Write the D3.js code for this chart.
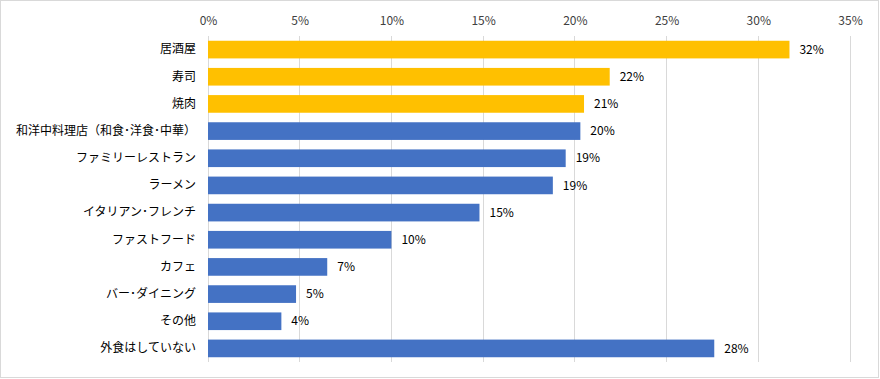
<!DOCTYPE html>
<html><head><meta charset="utf-8">
<script src="https://cdn.jsdelivr.net/npm/d3@7"></script>
<style>body{margin:0;background:#fff;} svg{display:block;}</style>
</head><body>
<svg id="c" width="880" height="379"></svg>
<script>
const categories = ["居酒屋","寿司","焼肉","和洋中料理店（和食･洋食･中華）","ファミリーレストラン","ラーメン","イタリアン･フレンチ","ファストフード","カフェ","バー･ダイニング","その他","外食はしていない"];
const values = [31.7, 21.9, 20.5, 20.3, 19.5, 18.8, 14.8, 10.0, 6.5, 4.8, 4.0, 27.6];
const labels = ["32%","22%","21%","20%","19%","19%","15%","10%","7%","5%","4%","28%"];
const highlighted = [true,true,true,false,false,false,false,false,false,false,false,false];
const tickValues = [0,5,10,15,20,25,30,35];

const svg = d3.select("#c");
const font = "'Noto Sans CJK JP', sans-serif";
svg.append("rect").attr("x",0.5).attr("y",0.5).attr("width",878).attr("height",377)
  .attr("fill","#fff").attr("stroke","#d9d9d9");

const x = d3.scaleLinear().domain([0,35]).range([208,850]);
const y = d3.scaleBand().domain(categories).range([36,362]).paddingInner(0.35).paddingOuter(0.175);

svg.append("g").selectAll("line").data(tickValues).join("line")
  .attr("x1",d=>x(d)).attr("x2",d=>x(d)).attr("y1",36).attr("y2",362)
  .attr("stroke","#d9d9d9").attr("stroke-width",1).attr("shape-rendering","crispEdges");

const ax = svg.append("g").attr("transform","translate(0,30)")
  .call(d3.axisTop(x).tickValues(tickValues).tickFormat(d=>d+"%").tickSize(0).tickPadding(5));
ax.select(".domain").remove();
ax.selectAll("text").attr("font-family",font).attr("font-size",12).attr("fill","#404040");

const ay = svg.append("g").attr("transform","translate(208,0)")
  .call(d3.axisLeft(y).tickSize(0).tickPadding(12));
ay.select(".domain").remove();
ay.selectAll("text").attr("font-family",font).attr("font-size",12).attr("fill","#000");

svg.append("g").selectAll("rect").data(categories).join("rect")
  .attr("x",x(0)).attr("y",d=>y(d)).attr("height",y.bandwidth())
  .attr("width",(d,i)=>x(values[i])-x(0))
  .attr("fill",(d,i)=>highlighted[i]?"#FFC000":"#4472C4");

svg.append("g").selectAll("text").data(categories).join("text")
  .attr("x",(d,i)=>x(values[i])+10).attr("y",d=>y(d)+y.bandwidth()/2)
  .attr("dy","0.35em").attr("font-family",font).attr("font-size",12).attr("fill","#000")
  .text((d,i)=>labels[i]);
</script>
</body></html>
